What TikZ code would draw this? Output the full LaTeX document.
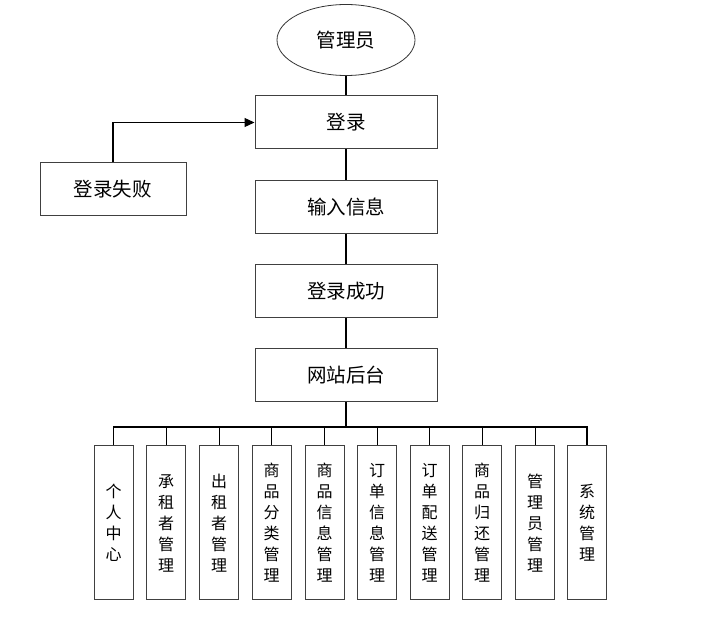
\documentclass[tikz,border=0pt]{standalone}
\usepackage{fontspec}
\setmainfont{Noto Sans CJK SC}
\usetikzlibrary{arrows.meta,shapes.geometric}
\begin{document}
\begin{tikzpicture}[x=1pt,y=-1pt,
  box/.style={draw=black!75,line width=1pt,fill=white,minimum width=182pt,minimum height=53pt,inner sep=0pt,font=\fontsize{19.5pt}{22pt}\selectfont},
  leaf/.style={draw=black!75,line width=1pt,fill=white,minimum width=39pt,minimum height=154pt,inner sep=0pt,align=center,font=\fontsize{16pt}{21pt}\selectfont},
  conn/.style={line width=1.2pt,draw=black}]
\useasboundingbox (0,0) rectangle (716,620);
\node[draw=black!80,line width=0.8pt,ellipse,minimum width=138pt,minimum height=71pt,inner sep=0pt,font=\fontsize{19.5pt}{22pt}\selectfont] (admin) at (346,40) {管理员};
\node[box] (login) at (346,122.5) {登录};
\node[box] (input) at (346,207) {输入信息};
\node[box] (ok) at (346,291) {登录成功};
\node[box] (back) at (346,375.5) {网站后台};
\node[box,minimum width=146pt] (fail) at (113,189.5) {登录失败};
\draw[conn] (admin) -- (login);
\draw[conn] (login) -- (input);
\draw[conn] (input) -- (ok);
\draw[conn] (ok) -- (back);
\draw[conn,-{Triangle[length=10pt,width=9pt]}] (fail.north) |- (login.west);
\coordinate (bus) at (346,427);
\foreach \i/\x/\t in {1/113.5/个\\人\\中\\心, 2/166/承\\租\\者\\管\\理, 3/219/出\\租\\者\\管\\理, 4/271.5/商\\品\\分\\类\\管\\理, 5/324.5/商\\品\\信\\息\\管\\理, 6/377/订\\单\\信\\息\\管\\理, 7/429.5/订\\单\\配\\送\\管\\理, 8/482/商\\品\\归\\还\\管\\理, 9/535/管\\理\\员\\管\\理, 10/587/系\\统\\管\\理}{
  \node[leaf] (m\i) at (\x,523) {\t};
}
\draw[conn] (back.south) -- (bus);
\draw[conn] (m1.north) |- (bus) -| (m10.north);
\foreach \i in {2,...,9}{
  \draw[line width=1pt] (m\i.north) -- (m\i.north |- bus);
}
\end{tikzpicture}
\end{document}
